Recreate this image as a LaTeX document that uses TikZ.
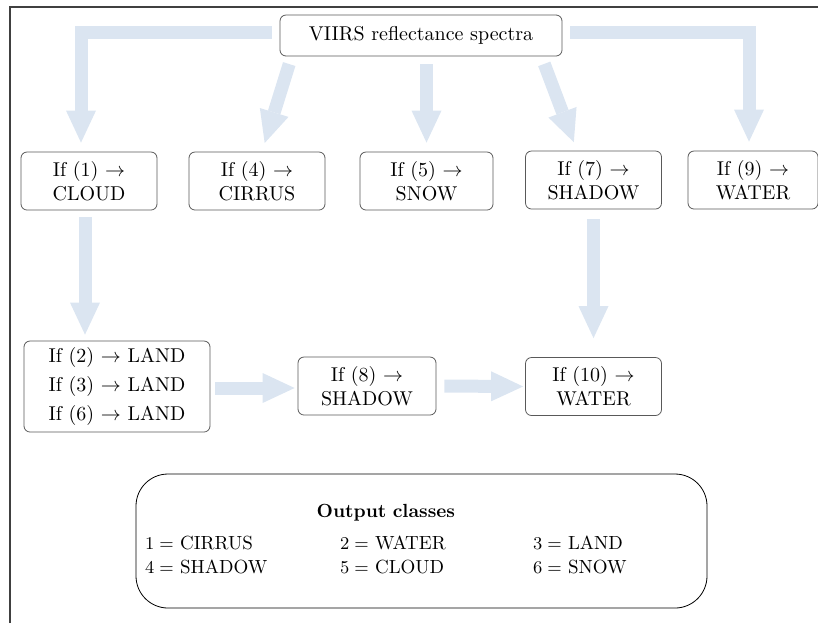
\documentclass[tikz,border=0pt]{standalone}
\usepackage{amsmath, amssymb}
\usetikzlibrary{positioning, arrows.meta}
\definecolor{flowblue}{RGB}{219,229,241}

\tikzset{
	testbox/.style={draw=black!65, rounded corners=3pt, align=center,
		minimum width=68pt, minimum height=29pt, inner sep=2pt},
	fatarrow/.style={draw=flowblue, line width=6.5pt,
		-{Triangle[width=15pt,length=16pt,line width=0pt]},
		shorten <=4pt, shorten >=4.5pt}
}

\begin{document}
\begin{tikzpicture}[x=0.5pt, y=-0.5pt]
	\useasboundingbox (0,0) rectangle (818,623);
	% frame
	\draw[black!75, line width=0.8pt] (10,623) -- (10,7) -- (818,7);

	% nodes
	\node[testbox, minimum width=141pt, minimum height=20.5pt] (spectra) at (421,35.5) {VIIRS reflectance spectra};

	\node[testbox] (cloud) at (89,181) {If (1) $\rightarrow$\\CLOUD};
	\node[testbox] (cirrus) at (257,181) {If (4) $\rightarrow$\\CIRRUS};
	\node[testbox, minimum width=66.5pt] (snow) at (426.5,181) {If (5) $\rightarrow$\\SNOW};
	\node[testbox] (shadowA) at (593.5,180) {If (7) $\rightarrow$\\SHADOW};
	\node[testbox, minimum width=65pt] (waterA) at (753,180) {If (9) $\rightarrow$\\WATER};

	\node[testbox, minimum width=93pt, minimum height=45.5pt] (land) at (117,386.5)
		{If (2) $\rightarrow$ LAND\\[2.5pt]If (3) $\rightarrow$ LAND\\[2.5pt]If (6) $\rightarrow$ LAND};
	\node[testbox, minimum width=69pt] (shadowB) at (367,386) {If (8) $\rightarrow$\\SHADOW};
	\node[testbox] (waterB) at (593.5,386.5) {If (10) $\rightarrow$\\WATER};

	\node[draw, rounded corners=16pt, minimum width=285.5pt, minimum height=67pt,
		inner sep=4.5pt, text width=276.5pt, align=left,
		font=\fontsize{9.5}{12}\selectfont] (classes) at (421.5,541) {%
		\begin{tabular}{@{}p{85.5pt}p{84.5pt}l@{}}
			\multicolumn{3}{c}{\textbf{Output classes}}\\[4pt]
			$1 =$ CIRRUS & $2 =$ WATER & $3 =$ LAND\\
			$4 =$ SHADOW & $5 =$ CLOUD & $6 =$ SNOW
		\end{tabular}};

	% arrows
	\draw[fatarrow] ([yshift=1.5pt]spectra.west) -| ([xshift=-4pt]cloud.north);
	\draw[fatarrow] ([xshift=6pt]spectra.south west) -- ([xshift=2.5pt]cirrus.north);
	\draw[fatarrow] (spectra.south -| snow.north) -- (snow.north);
	\draw[fatarrow] ([xshift=-10.5pt]spectra.south east) -- ([xshift=-8.25pt]shadowA.north);
	\draw[fatarrow] ([yshift=1.5pt]spectra.east) -| ([xshift=-2pt]waterA.north);

	\draw[fatarrow, shorten <=3.5pt, shorten >=3pt] ([xshift=-2pt]cloud.south) -- ([xshift=-2pt]cloud.south |- land.north);
	\draw[fatarrow, shorten <=5pt, shorten >=9.5pt] (shadowA.south) -- (waterB.north);

	\draw[fatarrow, shorten <=2.5pt, shorten >=1.5pt] ([yshift=-0.75pt]land.east) -- ([yshift=-0.75pt]land.east -| shadowB.west);
	\draw[fatarrow, shorten >=1pt] (shadowB.east) -- (waterB.west);
\end{tikzpicture}
\end{document}
